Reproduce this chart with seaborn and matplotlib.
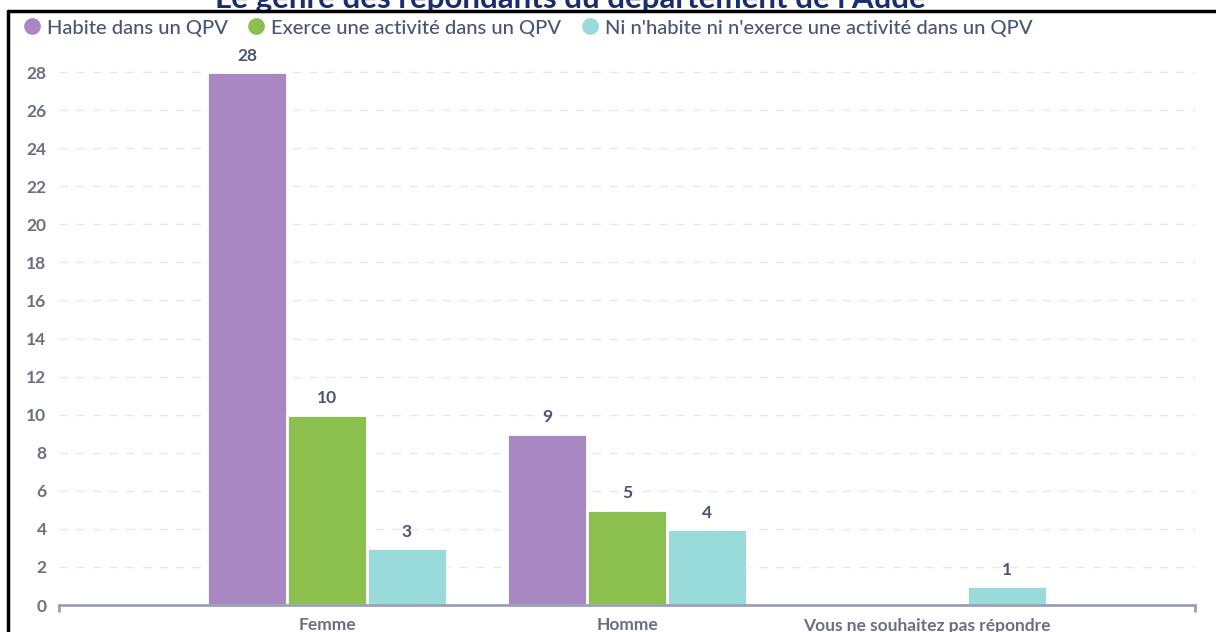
import matplotlib
matplotlib.use("Agg")
import matplotlib.pyplot as plt
from matplotlib.lines import Line2D
import seaborn as sns
import pandas as pd

categories = ["Femme", "Homme", "Vous ne souhaitez pas répondre"]
series_names = ["Habite dans un QPV", "Exerce une activité dans un QPV",
                "Ni n'habite ni n'exerce une activité dans un QPV"]
habite = [28, 9, 0]
exerce = [10, 5, 0]
ni = [3, 4, 1]
colors = ["#a887c3", "#8bc04f", "#99dada"]
yticks = [0, 2, 4, 6, 8, 10, 12, 14, 16, 18, 20, 22, 24, 26, 28]
title = "Le genre des répondants du département de l'Aude"

rows = []
for name, vals in zip(series_names, [habite, exerce, ni]):
    for c, v in zip(categories, vals):
        rows.append({"cat": c, "serie": name, "val": v})
df = pd.DataFrame(rows)

sns.set_theme(style="white")
plt.rcParams["font.family"] = ["Lato", "DejaVu Sans"]

W, H = 1216, 632
fig = plt.figure(figsize=(W / 100, H / 100), dpi=100)
ax = fig.add_axes([59 / W, 1 - 605 / H, (1195 - 59) / W, (605 - 53) / H])

sns.barplot(data=df, x="cat", y="val", hue="serie", order=categories,
            hue_order=series_names, palette=colors, width=0.8,
            edgecolor="white", linewidth=2, saturation=1, ax=ax, legend=False,
            errorbar=None)

for cont in ax.containers:
    labels = [("%d" % b.get_height()) if b.get_height() > 0 else "" for b in cont]
    ax.bar_label(cont, labels=labels, padding=6, fontsize=12.5, fontweight="bold",
                 color="#4b5573")

ax.set_xlim(-0.893, 2.893)
ax.set_ylim(0, 29)
ax.set_yticks(yticks)
ax.set_yticklabels([str(t) for t in yticks])
for t in yticks[1:]:
    ax.axhline(t, color="#e8e8e8", linestyle=(0, (6, 6)), linewidth=1, zorder=0)

ax.set_xlabel("")
ax.set_ylabel("")
for s in ["top", "right", "left"]:
    ax.spines[s].set_visible(False)
ax.spines["bottom"].set_color("#9aa0b4")
ax.spines["bottom"].set_linewidth(2)
ax.tick_params(axis="x", length=0, pad=9, labelsize=12.5, labelcolor="#6b6f80")
ax.tick_params(axis="y", length=0, pad=9, labelsize=12.5, labelcolor="#6b6f80")
for lab in ax.get_xticklabels() + ax.get_yticklabels():
    lab.set_fontweight("bold")
for xe in (0, 1):
    ax.plot([xe, xe], [0, -0.013], transform=ax.transAxes, clip_on=False,
            color="#9aa0b4", linewidth=2, solid_capstyle="butt")

handles = [Line2D([], [], marker="o", linestyle="", markersize=11,
                  markerfacecolor=c, markeredgecolor=c) for c in colors]
leg = fig.legend(handles, series_names, loc="center left", ncol=3,
                 bbox_to_anchor=(20 / W, 1 - 28 / H), frameon=False,
                 fontsize=14.5, labelcolor="#4b5573", handletextpad=0.15,
                 columnspacing=0.8, handlelength=1.2, borderaxespad=0, borderpad=0)
for t in leg.get_texts():
    t.set_fontweight("medium")

fig.text(570 / W, 1 - 8 / H, title, ha="center", va="baseline",
         fontsize=22.5, fontweight="bold", color="#1a2d6e")

fig.add_artist(Line2D([8 / W, 1], [1 - 11 / H, 1 - 11 / H], color="black",
                      linewidth=2.5, transform=fig.transFigure, zorder=10))
fig.add_artist(Line2D([8 / W, 8 / W], [0, 1 - 11 / H], color="black",
                      linewidth=2.5, transform=fig.transFigure, zorder=10))

fig.savefig("out.png", dpi=100, facecolor="white")
